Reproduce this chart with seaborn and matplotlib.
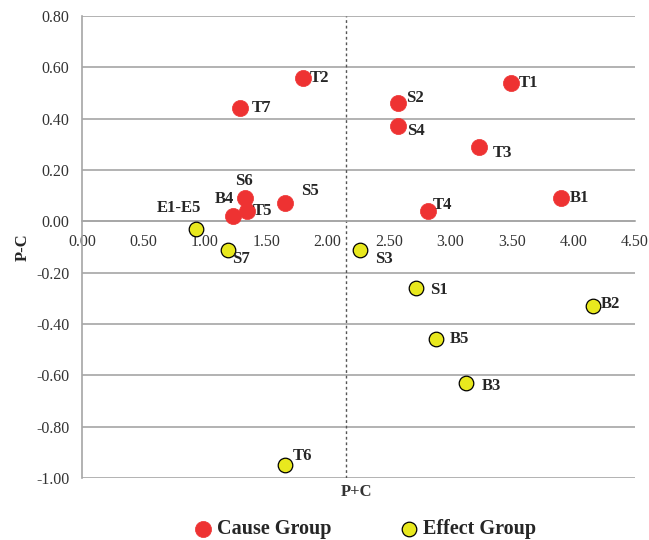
import numpy as np
import pandas as pd
import matplotlib
matplotlib.use("Agg")
import matplotlib.pyplot as plt
import seaborn as sns

sns.set_style("white")
plt.rcParams['font.family'] = ['Liberation Serif', 'DejaVu Serif']

# data
cause_names = ['T2', 'T7', 'T1', 'S2', 'S4', 'T3', 'B1', 'T4', 'S6', 'B4', 'T5', 'S5']
cause_x = [1.80, 1.29, 3.49, 2.57, 2.57, 3.23, 3.90, 2.82, 1.33, 1.23, 1.34, 1.65]
cause_y = [0.56, 0.44, 0.54, 0.46, 0.37, 0.29, 0.09, 0.04, 0.09, 0.02, 0.04, 0.07]

effect_names = ['E1-E5', 'S7', 'S3', 'S1', 'B2', 'B5', 'B3', 'T6']
effect_x = [0.93, 1.19, 2.26, 2.72, 4.16, 2.88, 3.13, 1.65]
effect_y = [-0.03, -0.11, -0.11, -0.26, -0.33, -0.46, -0.63, -0.95]

mean_pc = 2.15
x_ticks = [0, 0.5, 1.0, 1.5, 2.0, 2.5, 3.0, 3.5, 4.0, 4.5]
y_ticks = [-1.0, -0.8, -0.6, -0.4, -0.2, 0.0, 0.2, 0.4, 0.6, 0.8]

df = pd.DataFrame({
    'name': cause_names + effect_names,
    'P+C': cause_x + effect_x,
    'P-C': cause_y + effect_y,
    'group': ['Cause Group'] * len(cause_names) + ['Effect Group'] * len(effect_names),
})

# label placement (pixel offsets from the point, x right / y down, alignment)
offsets = {
    'T2': (7, 0, 'left'), 'T7': (11, 0, 'left'), 'T1': (8, 0, 'left'),
    'S2': (8, -5, 'left'), 'S4': (9, 5, 'left'), 'T3': (14, 6, 'left'),
    'B1': (9, 0, 'left'), 'T4': (4, -6, 'left'), 'S6': (-1, -17, 'center'),
    'B4': (1, -17, 'right'), 'T5': (6, 0, 'left'), 'S5': (16, -12, 'left'),
    'E1-E5': (5, -21, 'right'), 'S7': (4, 9, 'left'), 'S3': (15, 9, 'left'),
    'S1': (14, 2, 'left'), 'B2': (8, -2, 'left'), 'B5': (14, 0, 'left'),
    'B3': (15, 3, 'left'), 'T6': (8, -9, 'left'),
}

red = '#EE3232'
yellow = '#E8E81E'
grid_col = '#A6A6A6'

fig = plt.figure(figsize=(6.49, 5.4), dpi=100)
ax = fig.add_axes([0.1263, 0.1148, 0.8517, 0.8556])

ax.axvline(mean_pc, color='#555555', linestyle=(0, (2, 2)), linewidth=1, zorder=1)

sns.scatterplot(data=df[df.group == 'Cause Group'], x='P+C', y='P-C', color=red,
                edgecolor=red, s=135, linewidth=0.5, label='Cause Group', ax=ax, zorder=3)
sns.scatterplot(data=df[df.group == 'Effect Group'], x='P+C', y='P-C', color=yellow,
                edgecolor='black', s=110, linewidth=0.9, label='Effect Group', ax=ax, zorder=3)

for _, r in df.iterrows():
    dx, dy, ha = offsets[r['name']]
    ax.annotate(r['name'], (r['P+C'], r['P-C']), xytext=(dx, -dy), textcoords='offset pixels',
                ha=ha, va='center', fontsize=12, fontweight='bold', zorder=4)

ax.set_xlim(0, 4.5)
ax.set_ylim(-1.0, 0.8)
ax.set_xticks(x_ticks)
ax.set_yticks(y_ticks)
ax.set_xticklabels([f'{v:.2f}' for v in x_ticks])
ax.set_yticklabels([f'{v:.2f}' for v in y_ticks])

ax.yaxis.grid(True, color=grid_col, linewidth=1.2)
ax.xaxis.grid(False)
ax.set_axisbelow(True)
for s in ['top', 'right']:
    ax.spines[s].set_visible(False)
ax.spines['bottom'].set_position(('data', 0))
ax.spines['bottom'].set_color(grid_col)
ax.spines['left'].set_color(grid_col)
ax.spines['bottom'].set_linewidth(1.2)
ax.spines['left'].set_linewidth(1.2)
ax.tick_params(axis='both', which='major', length=5, width=1, color=grid_col,
               labelsize=11.5, labelcolor='#333333', direction='out')
ax.tick_params(axis='x', pad=4)
ax.tick_params(axis='y', pad=4)

ax.set_xlabel('')
ax.set_ylabel('P-C', fontsize=12, fontweight='bold', labelpad=4)
ax.annotate('P+C', (mean_pc, -1.0), xytext=(-5, -6), textcoords='offset pixels',
            ha='left', va='top', fontsize=12, fontweight='bold', color='#333333')

ax.legend(loc='center', bbox_to_anchor=(0.562, 0.02), bbox_transform=fig.transFigure,
          ncol=2, frameon=False, prop={'size': 14.5, 'weight': 'bold'},
          handlelength=1.0, handletextpad=0.2, columnspacing=3.35, markerscale=1.0)

fig.savefig('out.png', dpi=100)
